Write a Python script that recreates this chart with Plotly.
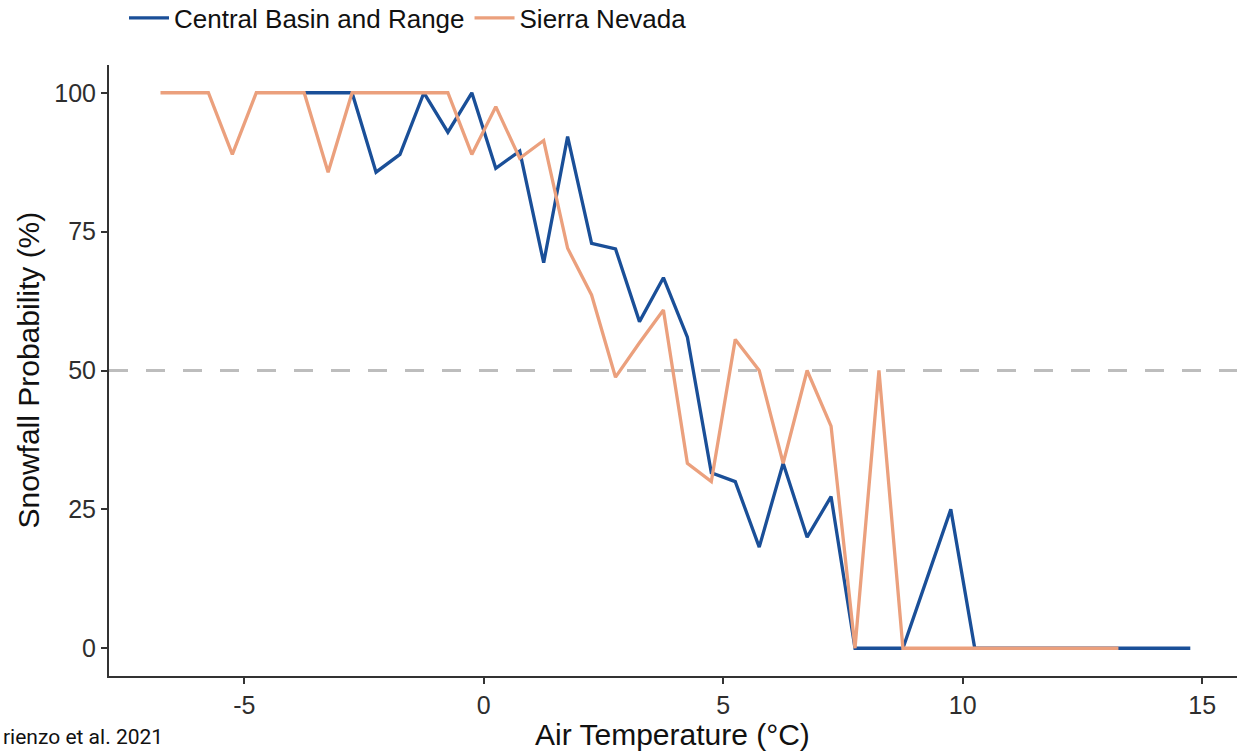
import plotly.graph_objects as go

# ---- data ----
cbr_temp = [-3.75, -3.25, -2.75, -2.25, -1.75, -1.25, -0.75, -0.25, 0.25, 0.75,
            1.25, 1.75, 2.25, 2.75, 3.25, 3.75, 4.25, 4.75, 5.25, 5.75,
            6.25, 6.75, 7.25, 7.75, 8.25, 8.75, 9.75, 10.25, 10.75, 11.25,
            11.75, 12.25, 12.75, 13.25, 13.75, 14.25, 14.75]
cbr_prob = [100, 100, 100, 85.7, 88.9, 100, 92.9, 100, 86.4, 89.5,
            69.4, 92.1, 72.9, 71.9, 58.8, 66.7, 56.0, 31.6, 30.0, 18.2,
            33.3, 20.0, 27.3, 0, 0, 0, 25.0, 0, 0, 0,
            0, 0, 0, 0, 0, 0, 0]

sn_temp = [-6.75, -6.25, -5.75, -5.25, -4.75, -4.25, -3.75, -3.25, -2.75, -2.25,
           -1.75, -1.25, -0.75, -0.25, 0.25, 0.75, 1.25, 1.75, 2.25, 2.75,
           3.25, 3.75, 4.25, 4.75, 5.25, 5.75, 6.25, 6.75, 7.25, 7.75,
           8.25, 8.75, 9.25, 9.75, 10.25, 10.75, 11.25, 11.75, 12.25, 12.75, 13.25]
sn_prob = [100, 100, 100, 88.9, 100, 100, 100, 85.7, 100, 100,
           100, 100, 100, 88.9, 97.5, 88.2, 91.4, 72.0, 63.6, 48.8,
           55.0, 60.9, 33.3, 30.0, 55.6, 50.0, 33.3, 50.0, 40.0, 0,
           50.0, 0, 0, 0, 0, 0, 0, 0, 0, 0, 0]

threshold = 50
x_ticks = [-5, 0, 5, 10, 15]
y_ticks = [0, 25, 50, 75, 100]
series_names = ["Central Basin and Range", "Sierra Nevada"]
caption = "rienzo et al. 2021"

BLUE = "#1a4f98"
ORANGE = "#eba07d"
AXC = "#333333"

fig = go.Figure()
fig.add_trace(go.Scatter(x=cbr_temp, y=cbr_prob, mode="lines", name=series_names[0],
                         line=dict(color=BLUE, width=3.3)))
fig.add_trace(go.Scatter(x=sn_temp, y=sn_prob, mode="lines", name=series_names[1],
                         line=dict(color=ORANGE, width=3.3)))

fig.add_shape(type="line", xref="paper", x0=0, x1=1, yref="y", y0=threshold, y1=threshold,
              line=dict(color="#bdbdbd", width=3, dash="19px,18px"), layer="below")

L, R, T, B = 109, 0, 65, 75
W, H = 1237, 751
pw, ph = W - L - R, H - T - B

def py(p):
    return (H - B - p) / ph

def px(p):
    return (p - L) / pw

fig.update_layout(
    width=W, height=H,
    margin=dict(l=L, r=R, t=T, b=B, autoexpand=False),
    plot_bgcolor="white", paper_bgcolor="white",
    font=dict(family="Liberation Sans, Arial, sans-serif", color="#111111"),
    showlegend=True,
    legend=dict(orientation="h", x=px(124), xanchor="left", y=py(18), yanchor="middle",
                font=dict(size=26, color="#111111"), itemwidth=40,
                bgcolor="rgba(0,0,0,0)"),
    xaxis=dict(range=[-7.825, 15.725], tickmode="array", tickvals=x_ticks,
               ticktext=[str(v) for v in x_ticks],
               showline=True, linecolor=AXC, linewidth=2, mirror=False,
               ticks="outside", ticklen=6, tickwidth=1.5, tickcolor=AXC,
               tickfont=dict(size=25, color="#2e2e2e"),
               showgrid=False, zeroline=False),
    yaxis=dict(range=[-5, 105], tickmode="array", tickvals=y_ticks,
               ticktext=[str(v) for v in y_ticks],
               showline=True, linecolor=AXC, linewidth=2, mirror=False,
               ticks="outside", ticklen=6, tickwidth=1.5, tickcolor=AXC,
               tickfont=dict(size=25, color="#2e2e2e"),
               showgrid=False, zeroline=False),
    annotations=[
        dict(text="Air Temperature (°C)", xref="x", x=3.94, yref="paper", y=py(734),
             xanchor="center", yanchor="middle", showarrow=False,
             font=dict(size=30, color="#111111")),
        dict(text="Snowfall Probability (%)", xref="paper", x=px(28), yref="y", y=50,
             xanchor="center", yanchor="middle", textangle=-90, showarrow=False,
             font=dict(size=30, color="#111111")),
        dict(text=caption, xref="paper", x=px(1), yref="paper", y=py(737),
             xanchor="left", yanchor="middle", showarrow=False,
             font=dict(size=21, family="Roboto, sans-serif", color="#111111")),
    ],
)

fig.write_html("out.html")
